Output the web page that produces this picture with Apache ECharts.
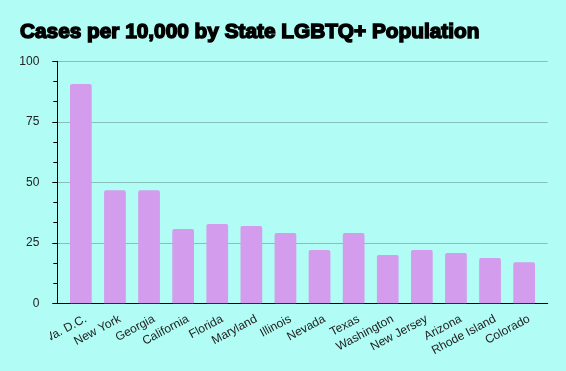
<!DOCTYPE html>
<html>
<head>
<meta charset="utf-8">
<script src="https://cdn.jsdelivr.net/npm/echarts@6/dist/echarts.min.js"></script>
<style>
html,body{margin:0;padding:0;background:#b1fcf4;}
#c{width:566px;height:371px;}
</style>
</head>
<body>
<div id="c"></div>
<script>
const categories = ["Wa. D.C.", "New York", "Georgia", "California", "Florida", "Maryland", "Illinois", "Nevada", "Texas", "Washington", "New Jersey", "Arizona", "Rhode Island", "Colorado"];
const cases = [90.6, 46.7, 46.7, 30.7, 32.8, 31.9, 29.0, 22.0, 29.0, 20.0, 22.0, 20.8, 18.7, 17.0];
const yTicks = [0, 25, 50, 75, 100];

const chart = echarts.init(document.getElementById('c'), null, {renderer: 'canvas'});
const gTop = 61.3, gBottom = 67.7;
chart.setOption({
  backgroundColor: '#b1fcf4',
  animation: false,
  title: {
    text: 'Cases per 10,000 by State LGBTQ+ Population',
    left: 15, top: 17,
    textStyle: {fontFamily: 'Liberation Sans', fontWeight: 'bold', fontSize: 20.8, color: '#000',
      textBorderColor: '#000', textBorderWidth: 1.5}
  },
  grid: [
    {left: 57.3, right: 18.3, top: gTop, bottom: gBottom},
    {left: 63.8, right: 24.8, top: gTop, bottom: gBottom},
    {left: 68.8, right: 19.8, top: gTop, bottom: gBottom}
  ],
  xAxis: [
    {gridIndex: 0, type: 'category', data: categories,
     axisLine: {show: true, lineStyle: {color: '#000', width: 1}},
     axisTick: {show: false}, axisLabel: {show: false}, splitLine: {show: false}},
    {gridIndex: 1, type: 'category', data: categories,
     axisLine: {show: false}, axisTick: {show: false}, axisLabel: {show: false}},
    {gridIndex: 2, type: 'category', data: categories,
     axisLine: {show: false}, axisTick: {show: false},
     axisLabel: {show: true, interval: 0, rotate: 28, margin: 15,
       fontFamily: 'Liberation Sans', fontSize: 12, color: '#222'}}
  ],
  yAxis: [
    {gridIndex: 0, type: 'value', min: yTicks[0], max: yTicks[yTicks.length - 1], interval: 25,
     axisLine: {show: true, lineStyle: {color: '#000'}},
     axisTick: {show: true, length: 5, lineStyle: {color: '#000'}},
     minorTick: {show: true, splitNumber: 3, length: 4, lineStyle: {color: '#000'}},
     axisLabel: {margin: 18, fontFamily: 'Liberation Sans', fontSize: 12, color: '#222'},
     splitLine: {show: true, lineStyle: {color: '#88bfba', width: 1}}},
    {gridIndex: 1, type: 'value', min: 0, max: 100, show: false},
    {gridIndex: 2, type: 'value', min: 0, max: 100, show: false}
  ],
  graphic: [{
    type: 'rect', left: 0, top: 312, z: 100,
    shape: {width: 50, height: 59},
    style: {fill: '#b1fcf4'}
  }],
  series: [{
    type: 'bar', xAxisIndex: 1, yAxisIndex: 1,
    data: cases, barWidth: 21.7,
    itemStyle: {color: '#d39cec', borderRadius: [2, 2, 0, 0]}
  }]
});
</script>
</body>
</html>
